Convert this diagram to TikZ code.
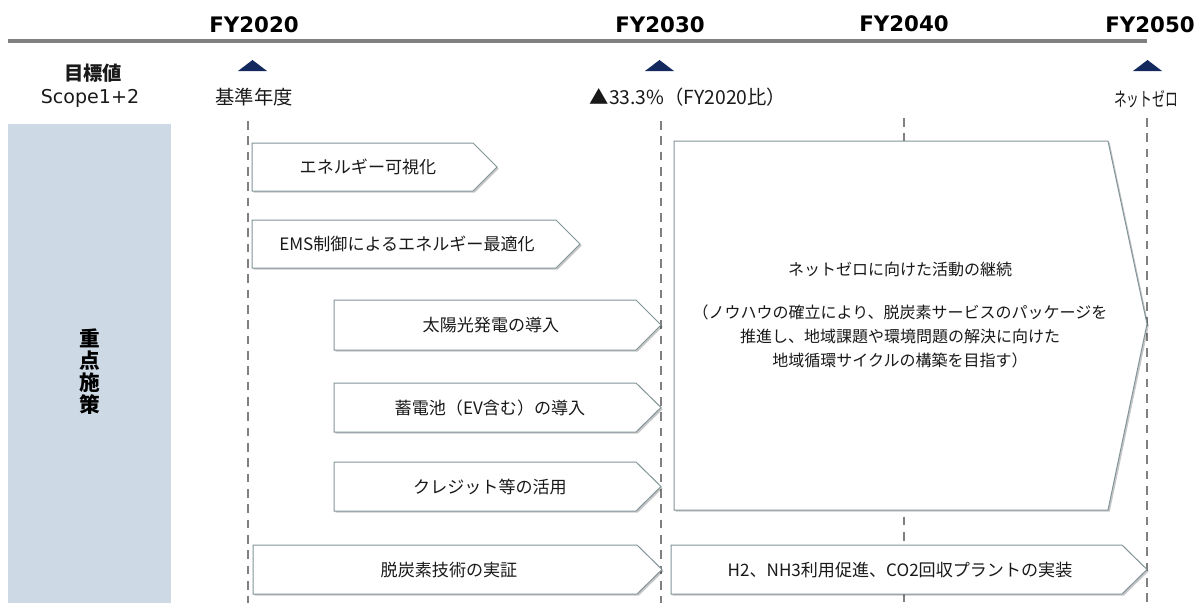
\documentclass[tikz,border=0pt]{standalone}
\usepackage{fontspec}
\usepackage{graphicx}
\setmainfont{Noto Sans CJK JP}
\newfontfamily\jp{Noto Sans CJK JP}
\newfontfamily\dv{DejaVu Sans}
\usetikzlibrary{shadows}
\definecolor{axisgray}{RGB}{128,128,128}
\definecolor{dashgray}{RGB}{128,128,128}
\definecolor{panel}{RGB}{205,217,229}
\definecolor{navy}{RGB}{20,42,94}
\definecolor{boxline}{RGB}{130,148,152}
\definecolor{txt}{RGB}{25,25,25}
\begin{document}
\begin{tikzpicture}[x=0.75pt,y=-0.75pt,
  fy/.style={font=\dv\bfseries\fontsize{16}{18}\selectfont, text=black, inner sep=0},
  head/.style={font=\jp\fontsize{14.5}{16}\selectfont, text=txt, inner sep=0},
  boxtext/.style={font=\jp\fontsize{12.8}{16}\selectfont, text=txt, inner sep=0},
  bigtext/.style={font=\jp\fontsize{12}{18.3}\selectfont, text=txt, align=center, inner sep=0},
  yearline/.style={draw=dashgray, line width=1.5pt, dash pattern=on 6.5pt off 5pt},
  arrowbox/.style={fill=white, draw=boxline, line width=0.75pt, line join=miter,
    drop shadow={shadow xshift=1.3pt, shadow yshift=-1.3pt, opacity=0.22, fill=black}},
  marker/.style={fill=navy}
]
\useasboundingbox (0,0) rectangle (1199,603);

% header axis
\coordinate (axL) at (8,41);
\coordinate (axR) at (1147,41);
\draw[axisgray, line width=3pt] (axL) -- (axR);
\node[fy] (fy20) at (254,25) {FY2020};
\node[fy] (fy30) at (660,25) {FY2030};
\node[fy] (fy40) at (904,24) {FY2040};
\node[fy] (fy50) at (1150,25) {FY2050};

% targets row
\node[head, font=\jp\bfseries\fontsize{14.5}{16}\selectfont] (goal) at (93,73) {目標値};
\node[head, font=\dv\fontsize{14.3}{16}\selectfont] (scope) at (90,98) {Scope1+2};
\fill[marker] (238,71) -- (267,71) -- (252.5,60) -- cycle;
\fill[marker] (645,71) -- (674,71) -- (659.5,60) -- cycle;
\fill[marker] (1133,71) -- (1162,71) -- (1147.5,60) -- cycle;
\node[head] (base) at (254,97) {基準年度};
\node[head] (t2030) at (688,97) {▲33.3\%（FY2020比）};
\node[head] (t2050) at (1146,99) {\scalebox{0.66}[1]{ネットゼロ}};

% left panel
\fill[panel] (8,124) rectangle (171,603);
\node[font=\jp\bfseries\fontsize{15.5}{16.5}\selectfont, text=black, align=center, inner sep=0] (side) at (90,372) {重\\点\\施\\策};

% dashed year lines
\coordinate (d20t) at (248,121); \coordinate (d20b) at (248,603);
\coordinate (d30t) at (661,121); \coordinate (d30b) at (661,603);
\coordinate (d40t) at (904,118); \coordinate (d40b) at (904,603);
\coordinate (d50t) at (1147,118); \coordinate (d50b) at (1147,603);
\draw[yearline] (d20t) -- (d20b);
\draw[yearline] (d30t) -- (d30b);
\draw[yearline] (d40t) -- (d40b);
\draw[yearline] (d50t) -- (d50b);

% arrow boxes
\draw[arrowbox] (252,143) -- (473,143) -- (497,167) -- (473,191) -- (252,191) -- cycle;
\node[boxtext] (a1) at (368,167) {エネルギー可視化};

\draw[arrowbox] (252,220) -- (556,220) -- (580,244) -- (556,268) -- (252,268) -- cycle;
\node[boxtext] (a2) at (407,244) {EMS制御によるエネルギー最適化};

\draw[arrowbox] (334,300) -- (636,300) -- (661,325) -- (636,350) -- (334,350) -- cycle;
\node[boxtext] (a3) at (491,325) {太陽光発電の導入};

\draw[arrowbox] (334,383) -- (636,383) -- (661,407.5) -- (636,432) -- (334,432) -- cycle;
\node[boxtext] (a4) at (490,408) {蓄電池（EV含む）の導入};

\draw[arrowbox] (334,462) -- (636,462) -- (661,486.5) -- (636,511) -- (334,511) -- cycle;
\node[boxtext] (a5) at (490,487) {クレジット等の活用};

\draw[arrowbox] (253,545) -- (637,545) -- (662,569.5) -- (637,594) -- (253,594) -- cycle;
\node[boxtext] (a6) at (449,570) {脱炭素技術の実証};

\draw[arrowbox] (671,545) -- (1122,545) -- (1147,569.5) -- (1122,594) -- (671,594) -- cycle;
\node[boxtext] (a7) at (900,570) {H2、NH3利用促進、CO2回収プラントの実装};

\draw[arrowbox] (674,141) -- (1108,141) -- (1147,324) -- (1108,510) -- (674,510) -- cycle;
\node[bigtext] (big) at (900,315) {ネットゼロに向けた活動の継続\\[14pt]（ノウハウの確立により、脱炭素サービスのパッケージを\\推進し、地域課題や環境問題の解決に向けた\\地域循環サイクルの構築を目指す）};
\end{tikzpicture}
\end{document}
